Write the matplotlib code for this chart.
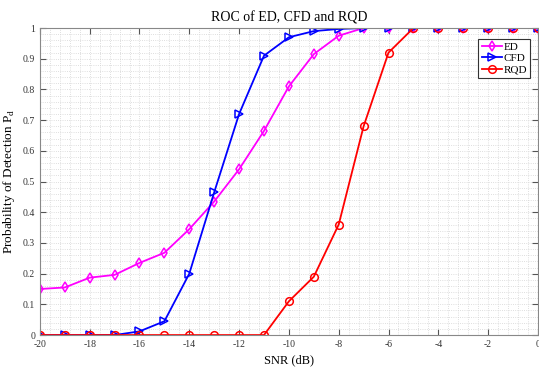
import matplotlib
matplotlib.use('Agg')
import matplotlib.pyplot as plt
from matplotlib.ticker import MultipleLocator

snr = [-20, -19, -18, -17, -16, -15, -14, -13, -12, -11,
       -10, -9, -8, -7, -6, -5, -4, -3, -2, -1, 0]
pd_ed = [0.150, 0.155, 0.187, 0.196, 0.235, 0.268, 0.345, 0.435, 0.540, 0.665,
         0.810, 0.915, 0.975, 1.0, 1.0, 1.0, 1.0, 1.0, 1.0, 1.0, 1.0]
pd_cfd = [0.0, 0.0, 0.0, 0.0, 0.012, 0.045, 0.200, 0.465, 0.720, 0.910,
          0.970, 0.990, 0.997, 1.0, 1.0, 1.0, 1.0, 1.0, 1.0, 1.0, 1.0]
pd_rqd = [0.0, 0.0, 0.0, 0.0, 0.0, 0.0, 0.0, 0.0, 0.0, 0.0,
          0.110, 0.190, 0.360, 0.680, 0.920, 1.0, 1.0, 1.0, 1.0, 1.0, 1.0]

xticks = list(range(-20, 1, 2))
yticks = [0, 0.1, 0.2, 0.3, 0.4, 0.5, 0.6, 0.7, 0.8, 0.9, 1]
ytick_labels = ['0', '0.1', '0.2', '0.3', '0.4', '0.5', '0.6', '0.7', '0.8', '0.9', '1']

plt.rcParams['font.family'] = ['Liberation Serif', 'DejaVu Serif']
plt.rcParams['axes.unicode_minus'] = False

fig = plt.figure(figsize=(5.39, 3.69), dpi=100)
ax = fig.add_axes([0.074, 0.092, 0.924, 0.832])

ax.plot(snr, pd_ed, color='#ff00ff', marker='d', markersize=5.5, mfc='none',
        mew=1.1, lw=1.3, label='ED')
ax.plot(snr, pd_cfd, color='#0000ff', marker='>', markersize=5.5, mfc='none',
        mew=1.1, lw=1.3, label='CFD')
ax.plot(snr, pd_rqd, color='#ff0000', marker='o', markersize=5.5, mfc='none',
        mew=1.1, lw=1.3, label='RQD')

ax.set_xlim(-20, 0)
ax.set_ylim(0, 1)
ax.set_xticks(xticks)
ax.set_yticks(yticks)
ax.set_yticklabels(ytick_labels)
ax.xaxis.set_minor_locator(MultipleLocator(0.4))
ax.yaxis.set_minor_locator(MultipleLocator(0.02))
ax.grid(which='both', color='#d4d4d4', linestyle=':', linewidth=0.6)
ax.set_axisbelow(True)
ax.tick_params(which='major', direction='in', top=True, right=True,
               length=4, colors='#555555', labelsize=7, labelcolor='#333333')
ax.tick_params(which='minor', length=0)
for s in ax.spines.values():
    s.set_color('#888888')
    s.set_linewidth(0.8)

ax.set_title('ROC of ED, CFD and RQD', fontsize=10, pad=5)
ax.set_xlabel('SNR (dB)', fontsize=9, labelpad=4)
ax.set_ylabel('Probability of Detection P$_\\mathregular{d}$', fontsize=9.5)
ax.yaxis.set_label_coords(-0.045, 0.5)

leg = ax.legend(loc='upper right', bbox_to_anchor=(0.985, 0.965), fontsize=8,
                fancybox=False, framealpha=1, edgecolor='#333333',
                borderpad=0.3, handlelength=1.8, handletextpad=0.15,
                labelspacing=0.15, borderaxespad=0)
leg.get_frame().set_linewidth(0.8)

fig.savefig('out.png', dpi=100)
